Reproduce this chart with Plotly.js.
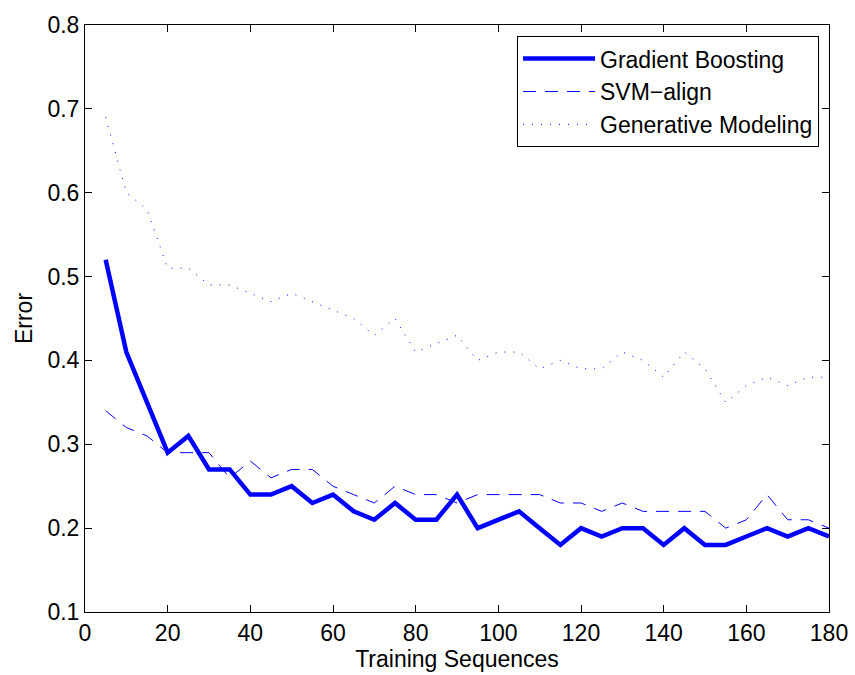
<!DOCTYPE html>
<html>
<head>
<meta charset="utf-8">
<script src="https://cdn.plot.ly/plotly-3.0.1.min.js"></script>
<style>html,body{margin:0;padding:0;background:#fff;}#chart{width:855px;height:675px;}</style>
</head>
<body>
<div id="chart"></div>
<script>
const trainingSequences = [5,10,15,20,25,30,35,40,45,50,55,60,65,70,75,80,85,90,95,100,105,110,115,120,125,130,135,140,145,150,155,160,165,170,175,180];
const gradientBoosting = [0.52,0.41,0.35,0.29,0.31,0.27,0.27,0.24,0.24,0.25,0.23,0.24,0.22,0.21,0.23,0.21,0.21,0.24,0.20,0.21,0.22,0.20,0.18,0.20,0.19,0.20,0.20,0.18,0.20,0.18,0.18,0.19,0.20,0.19,0.20,0.19];
const svmAlign = [0.34,0.32,0.31,0.29,0.29,0.29,0.26,0.28,0.26,0.27,0.27,0.25,0.24,0.23,0.25,0.24,0.24,0.23,0.24,0.24,0.24,0.24,0.23,0.23,0.22,0.23,0.22,0.22,0.22,0.22,0.20,0.21,0.24,0.21,0.21,0.20];
const generativeModeling = [0.69,0.60,0.58,0.51,0.51,0.49,0.49,0.48,0.47,0.48,0.47,0.46,0.45,0.43,0.45,0.41,0.42,0.43,0.40,0.41,0.41,0.39,0.40,0.39,0.39,0.41,0.40,0.38,0.41,0.39,0.35,0.37,0.38,0.37,0.38,0.38];
const seriesNames = ["Gradient Boosting","SVM\u2212align","Generative Modeling"];
const xTickVals = [0,20,40,60,80,100,120,140,160,180];
const yTickVals = [0.1,0.2,0.3,0.4,0.5,0.6,0.7,0.8];

const blue = '#0000ff';
const traces = [
  {x: trainingSequences, y: gradientBoosting, name: seriesNames[0], mode: 'lines', line: {color: blue, width: 4.5}},
  {x: trainingSequences, y: svmAlign, name: seriesNames[1], mode: 'lines', line: {color: blue, width: 1, dash: '13px,9px'}},
  {x: trainingSequences, y: generativeModeling, name: seriesNames[2], mode: 'lines', line: {color: blue, width: 1, dash: '1px,8px'}}
];
const font = {family: '"Liberation Sans", Arial, Helvetica, sans-serif', size: 23, color: '#000'};
const axisCommon = {
  showline: true, linecolor: '#000', linewidth: 1, mirror: 'allticks',
  ticks: 'inside', ticklen: 7, tickcolor: '#000', tickwidth: 1,
  showgrid: false, zeroline: false, tickfont: font
};
const layout = {
  width: 855, height: 675,
  margin: {l: 85, r: 26, t: 25, b: 63},
  paper_bgcolor: '#fff', plot_bgcolor: '#fff',
  font: font,
  showlegend: true,
  legend: {
    x: 0.9866, y: 0.981, xanchor: 'right', yanchor: 'top',
    bgcolor: '#fff', bordercolor: '#000', borderwidth: 1,
    font: font,
    itemwidth: 72, tracegroupgap: 0
  },
  xaxis: Object.assign({}, axisCommon, {
    range: [0, 180], tickvals: xTickVals, ticktext: xTickVals.map(String),
    title: {text: 'Training Sequences', font: font, standoff: 4}
  }),
  yaxis: Object.assign({}, axisCommon, {
    range: [0.1, 0.8], tickvals: yTickVals, ticktext: yTickVals.map(v => v.toFixed(1)),
    title: {text: 'Error', font: font, standoff: 8}
  })
};
Plotly.newPlot('chart', traces, layout, {displayModeBar: false, staticPlot: true});
</script>
</body>
</html>
